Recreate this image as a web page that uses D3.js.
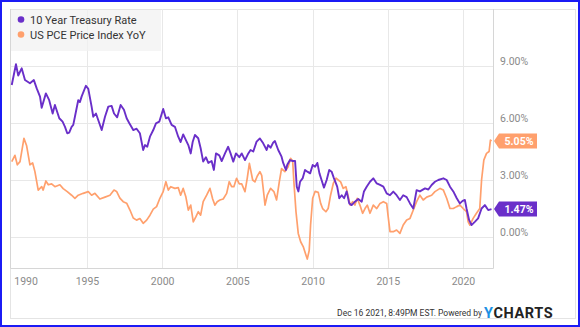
<!DOCTYPE html>
<html>
<head>
<meta charset="utf-8">
<script src="https://cdn.jsdelivr.net/npm/d3@7"></script>
<style>
  html, body { margin: 0; padding: 0; background: #fff; }
  svg { display: block; font-family: Roboto, "Noto Sans", Arial, sans-serif; }
</style>
</head>
<body>
<svg id="chart" width="580" height="327"></svg>
<script>
// 10 Year Treasury Rate (%), sampled by decimal year
const treasuryYears = [1990.0,1990.28,1990.43,1990.66,1990.88,1991.21,1991.47,1991.66,1991.88,1991.99,1992.27,1992.49,1992.72,1992.87,1993.16,1993.38,1993.54,1993.69,1993.82,1993.98,1994.09,1994.2,1994.42,1994.53,1994.65,1994.93,1995.09,1995.31,1995.42,1995.6,1995.75,1995.98,1996.2,1996.42,1996.64,1996.8,1997.01,1997.24,1997.46,1997.64,1997.81,1998.08,1998.3,1998.52,1998.74,1998.86,1999.01,1999.19,1999.41,1999.59,1999.81,2000.07,2000.25,2000.41,2000.63,2000.85,2001.07,2001.23,2001.4,2001.58,2001.74,2001.9,2002.03,2002.18,2002.4,2002.56,2002.73,2002.91,2003.07,2003.29,2003.44,2003.58,2003.8,2003.96,2004.18,2004.39,2004.55,2004.73,2004.91,2005.13,2005.29,2005.51,2005.73,2005.88,2006.06,2006.28,2006.5,2006.72,2006.95,2007.05,2007.21,2007.39,2007.5,2007.72,2007.94,2008.05,2008.23,2008.32,2008.5,2008.68,2008.84,2008.95,2009.06,2009.17,2009.35,2009.5,2009.66,2009.84,2010.01,2010.17,2010.32,2010.46,2010.6,2010.76,2010.94,2011.11,2011.27,2011.42,2011.64,2011.78,2011.94,2012.1,2012.27,2012.44,2012.6,2012.82,2013.04,2013.27,2013.42,2013.6,2013.82,2014.04,2014.27,2014.49,2014.71,2014.93,2015.15,2015.37,2015.59,2015.81,2016.03,2016.26,2016.48,2016.7,2016.92,2017.14,2017.48,2017.7,2017.92,2018.14,2018.36,2018.7,2018.92,2019.14,2019.36,2019.59,2019.8,2019.98,2020.13,2020.24,2020.41,2020.57,2020.79,2021.01,2021.24,2021.46,2021.68,2021.9];
const treasuryRates = [8.0,9.09,8.5,8.88,8.26,8.09,8.26,7.82,7.39,6.8,7.56,7.2,6.5,6.95,6.25,6.07,5.8,5.46,5.5,5.8,5.9,6.33,7.2,7.1,7.4,7.96,7.8,6.86,6.33,6.5,6.16,5.63,6.33,6.86,6.9,6.5,6.3,6.95,6.7,6.25,6.0,5.63,5.7,5.46,4.58,4.84,4.75,5.28,5.63,5.98,6.07,6.74,6.25,6.3,5.9,5.8,5.28,5.0,5.4,5.1,4.84,4.4,5.0,5.37,5.2,4.67,3.97,4.2,3.9,4.0,3.53,4.4,4.3,4.0,4.4,4.75,4.4,3.97,4.4,4.2,4.4,4.05,4.4,4.58,4.5,5.02,5.19,4.93,4.58,4.84,4.7,4.98,5.05,4.58,4.23,3.9,3.53,3.8,4.05,4.0,4.0,2.65,2.4,2.91,3.1,3.53,3.44,3.35,3.79,3.7,3.9,3.35,3.0,2.6,3.0,3.53,3.44,3.1,2.65,2.04,2.2,2.04,2.4,1.77,1.68,1.86,2.0,1.86,2.4,2.65,2.91,3.09,2.82,2.74,2.65,2.3,2.2,2.39,2.2,1.95,2.2,2.1,1.77,1.5,2.47,2.4,2.56,2.5,2.74,2.91,3.0,3.09,3.0,2.65,2.4,2.04,1.77,1.9,1.95,1.5,0.9,0.63,0.8,0.98,1.5,1.68,1.42,1.47];

// US PCE Price Index, year-over-year change (%)
const pceYears = [1990.0,1990.21,1990.37,1990.55,1990.81,1990.99,1991.21,1991.39,1991.54,1991.76,1991.99,1992.09,1992.27,1992.43,1992.65,1992.87,1993.2,1993.42,1993.69,1993.98,1994.2,1994.42,1994.75,1995.09,1995.31,1995.53,1995.86,1996.2,1996.53,1996.8,1996.97,1997.19,1997.41,1997.64,1997.86,1998.08,1998.3,1998.52,1998.74,1998.97,1999.19,1999.41,1999.63,1999.85,2000.07,2000.25,2000.41,2000.57,2000.85,2001.07,2001.23,2001.4,2001.58,2001.74,2001.9,2002.07,2002.25,2002.4,2002.56,2002.73,2002.96,2003.18,2003.36,2003.51,2003.66,2003.84,2004.06,2004.29,2004.46,2004.62,2004.77,2004.95,2005.13,2005.29,2005.51,2005.66,2005.8,2006.02,2006.17,2006.32,2006.5,2006.62,2006.77,2006.84,2006.99,2007.21,2007.43,2007.61,2007.79,2007.94,2008.16,2008.38,2008.54,2008.68,2008.76,2008.9,2009.05,2009.21,2009.38,2009.56,2009.65,2009.78,2009.87,2010.01,2010.17,2010.38,2010.54,2010.67,2010.89,2011.04,2011.2,2011.38,2011.56,2011.71,2011.87,2012.04,2012.22,2012.38,2012.5,2012.67,2012.82,2012.97,2013.15,2013.33,2013.49,2013.64,2013.82,2014.04,2014.27,2014.49,2014.71,2014.93,2015.03,2015.15,2015.37,2015.59,2015.81,2016.03,2016.26,2016.48,2016.7,2016.92,2017.14,2017.36,2017.59,2017.92,2018.14,2018.48,2018.7,2018.92,2019.14,2019.36,2019.59,2019.8,2020.02,2020.24,2020.35,2020.46,2020.68,2020.9,2021.12,2021.24,2021.39,2021.57,2021.74,2021.83,2021.9];
const pceValues = [3.97,4.3,3.8,3.97,5.19,4.8,3.8,3.9,3.44,2.47,2.65,2.47,2.95,2.75,2.8,2.65,2.75,2.55,2.39,2.2,2.04,2.2,2.3,2.39,2.2,2.3,2.0,2.1,2.2,2.47,2.4,2.05,1.86,1.78,1.42,1.0,0.89,0.97,0.72,0.89,1.15,1.47,1.6,2.04,2.39,2.91,2.47,2.65,2.56,2.6,2.2,2.56,2.1,1.42,1.68,0.8,1.07,1.33,1.15,1.86,2.2,2.56,2.0,1.68,1.86,1.95,2.0,2.3,2.91,2.65,2.65,3.09,2.8,2.8,2.39,3.1,3.88,3.0,2.9,3.2,3.44,3.25,2.2,1.68,2.2,2.56,2.39,1.95,2.9,3.6,3.44,3.7,4.14,4.0,2.9,1.33,0.19,-0.25,-0.5,-0.95,-1.16,-0.7,0.63,2.04,2.4,2.35,1.77,1.5,1.33,1.5,2.2,2.82,3.1,3.0,2.9,2.56,2.65,2.12,1.68,1.86,1.68,2.04,1.68,1.25,1.5,1.68,1.25,1.68,1.5,1.77,1.86,1.77,1.07,0.28,0.28,0.37,0.19,0.63,0.9,0.98,1.42,1.86,2.2,1.95,2.1,2.2,2.39,2.56,2.47,2.04,1.5,1.5,1.6,1.68,1.5,1.33,0.8,0.63,0.98,1.25,1.5,3.0,4.05,4.4,4.5,5.1,5.05];

const yTicks = [0, 3, 6, 9];
const xTicks = [1990, 1995, 2000, 2005, 2010, 2015, 2020];
const seriesNames = ["10 Year Treasury Rate", "US PCE Price Index YoY"];
const seriesColors = ["#6a2fc9", "#ffa06d"];
const footerStamp = "Dec 16 2021, 8:49PM EST.";

const svg = d3.select("#chart");
const W = 580, H = 327;
const plot = { left: 11, right: 493, top: 9, bottom: 268 };

const x = d3.scaleLinear().domain([1989.95, 2022.0]).range([plot.left, plot.right]);
const y = d3.scaleLinear().domain([-1.63, 12]).range([plot.bottom, plot.top]);

// outer frame
svg.append("rect").attr("x", 1).attr("y", 1).attr("width", W - 2).attr("height", H - 2)
  .attr("fill", "#fff").attr("stroke", "#1b1bf5").attr("stroke-width", 2);

// container border
svg.append("rect").attr("x", 10.5).attr("y", 9.5).attr("width", 565).attr("height", 309)
  .attr("fill", "none").attr("stroke", "#e4e4e4");

// grid
const grid = svg.append("g");
grid.selectAll("line.h").data(yTicks).join("line")
  .attr("x1", plot.left).attr("x2", plot.right)
  .attr("y1", d => Math.round(y(d)) + 0.5).attr("y2", d => Math.round(y(d)) + 0.5)
  .attr("stroke", "#e8e8e8");
grid.selectAll("line.v").data(xTicks.slice(1)).join("line")
  .attr("y1", plot.top).attr("y2", plot.bottom)
  .attr("x1", d => Math.round(x(d)) + 0.5).attr("x2", d => Math.round(x(d)) + 0.5)
  .attr("stroke", "#e8e8e8");

// plot frame (left, bottom, right)
svg.append("path")
  .attr("d", `M${plot.left - 0.5},${plot.top}V${plot.bottom + 0.5}H${plot.right + 0.5}V${plot.top}`)
  .attr("fill", "none").attr("stroke", "#d6d6d6");

// axes
const yAxis = d3.axisRight(y).tickValues(yTicks).tickSize(0).tickPadding(0)
  .tickFormat(d => d3.format(".2f")(d) + "%");
const ya = svg.append("g").attr("transform", `translate(500,0)`).call(yAxis);
ya.select(".domain").remove();
ya.selectAll("text").attr("x", 0).attr("dy", "-2").attr("dominant-baseline", "auto")
  .attr("fill", "#8a8a8a").attr("font-size", 10.5).attr("font-family", "Roboto, sans-serif");

const xAxis = d3.axisBottom(x).tickValues(xTicks).tickSize(0).tickPadding(0).tickFormat(d3.format("d"));
const xa = svg.append("g").attr("transform", `translate(0,${plot.bottom})`).call(xAxis);
xa.select(".domain").remove();
xa.selectAll("text").attr("y", 16.5).attr("dy", 0)
  .attr("fill", "#8a8a8a").attr("font-size", 10.5).attr("font-family", "Roboto, sans-serif");
xa.selectAll(".tick").filter(d => d === xTicks[0]).select("text")
  .attr("text-anchor", "start").attr("x", 2);

// series lines
const line = d3.line().x(d => x(d[0])).y(d => y(d[1])).curve(d3.curveLinear);
const pceData = d3.zip(pceYears, pceValues);
const tsyData = d3.zip(treasuryYears, treasuryRates);

svg.append("path").datum(pceData).attr("d", line)
  .attr("fill", "none").attr("stroke", seriesColors[1]).attr("stroke-width", 1.7)
  .attr("stroke-linejoin", "round");
svg.append("path").datum(tsyData).attr("d", line)
  .attr("fill", "none").attr("stroke", seriesColors[0]).attr("stroke-width", 1.9)
  .attr("stroke-linejoin", "round");

// last-value tags on the right axis
function tag(value, color) {
  const cy = y(value);
  const g = svg.append("g");
  const x0 = plot.right + 1, x1 = x0 + 5, x2 = 537, h = 7.5;
  g.append("path")
    .attr("d", `M${x0},${cy}L${x1},${cy - h}H${x2}V${cy + h}H${x1}Z`)
    .attr("fill", color);
  g.append("text").attr("x", (x1 + x2) / 2 + 1).attr("y", cy + 4)
    .attr("text-anchor", "middle").attr("fill", "#fff")
    .attr("font-size", 10.5).attr("font-weight", "bold")
    .attr("font-family", "Roboto, sans-serif")
    .text(d3.format(".2f")(value) + "%");
}
tag(pceValues[pceValues.length - 1], seriesColors[1]);
tag(treasuryRates[treasuryRates.length - 1], seriesColors[0]);

// legend
const lg = svg.append("g");
lg.append("rect").attr("x", 11).attr("y", 10).attr("width", 150).attr("height", 41)
  .attr("fill", "#f1f1f1").attr("fill-opacity", 0.75);
seriesNames.forEach((name, i) => {
  const cy = 19.5 + i * 15;
  lg.append("circle").attr("cx", 21).attr("cy", cy).attr("r", 3.3).attr("fill", seriesColors[i]);
  lg.append("text").attr("x", 30).attr("y", cy + 4).attr("fill", "#333")
    .attr("font-size", 11).attr("font-family", "Roboto, sans-serif").text(name);
});

// footer
const ft = svg.append("g").attr("font-family", "Roboto, sans-serif");
ft.append("text").attr("x", 482).attr("y", 316).attr("text-anchor", "end")
  .attr("font-size", 8.5).attr("fill", "#333")
  .text(footerStamp + "  Powered by");
const logo = ft.append("text").attr("x", 484).attr("y", 318)
  .attr("font-size", 14.5).attr("font-weight", "bold").attr("letter-spacing", 0.6);
logo.append("tspan").attr("fill", "#1b8fe3").text("Y");
logo.append("tspan").attr("fill", "#222").text("CHARTS");
</script>
</body>
</html>
